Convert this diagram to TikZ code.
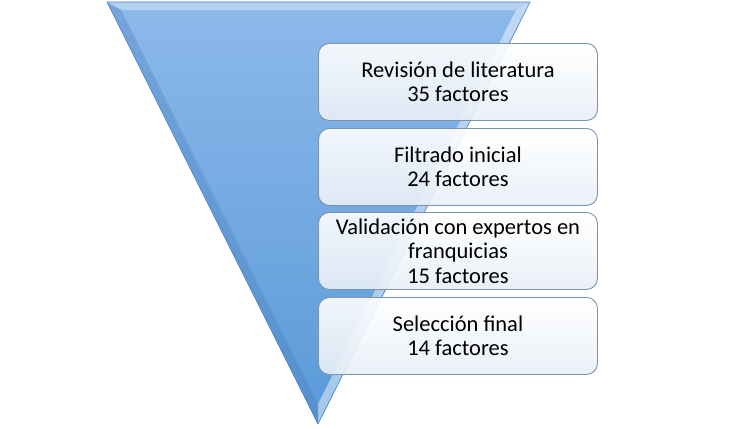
\documentclass[tikz,border=0pt]{standalone}
\usepackage{fontspec}
\setmainfont{Carlito}
\usetikzlibrary{calc}
\definecolor{triTop}{HTML}{8DB9EA}
\definecolor{triBot}{HTML}{5A9AD8}
\definecolor{triEdge}{HTML}{4A80BE}
\definecolor{boxEdge}{HTML}{7C93AE}
\definecolor{boxTint}{HTML}{E8EFF7}
\tikzset{
  x=1bp, y=-1bp,
  stagebox/.style={draw=boxEdge, line width=0.9bp, rounded corners=11bp,
    top color=white, bottom color=boxTint, fill opacity=0.9, text opacity=1,
    minimum width=279bp, minimum height=77bp, anchor=north west, inner sep=2bp,
    align=center, font=\fontsize{22.5bp}{24.5bp}\selectfont, text=black},
}
\begin{document}
\begin{tikzpicture}
\useasboundingbox (0,0) rectangle (749,428);
% funnel triangle
\coordinate (tl) at (107,2);
\coordinate (tr) at (530,2);
\coordinate (ap) at (318,424);
\shade[top color=triTop, bottom color=triBot] (tl) -- (tr) -- (ap) -- cycle;
% bevels
\fill[white, opacity=0.35] (tl) -- (tr) -- ($(tr)+(-14,8)$) -- ($(tl)+(14,8)$) -- cycle;
\fill[white, opacity=0.45] (tr) -- (ap) -- ($(ap)+(0,-20)$) -- ($(tr)+(-14,8)$) -- cycle;
\fill[triEdge, opacity=0.35] (tl) -- ($(tl)+(14,8)$) -- ($(ap)+(0,-20)$) -- (ap) -- cycle;
\draw[triEdge, line width=0.6bp] (tl) -- (tr) -- (ap) -- cycle;
% stage boxes
\node[stagebox] (s1) at (318,43) {Revisión de literatura\\35 factores};
\node[stagebox] (s2) at (318,128) {Filtrado inicial\\24 factores};
\node[stagebox] (s3) at (318,212) {Validación con expertos en\\franquicias\\15 factores};
\node[stagebox] (s4) at (318,297) {Selección final\\14 factores};
\end{tikzpicture}
\end{document}
